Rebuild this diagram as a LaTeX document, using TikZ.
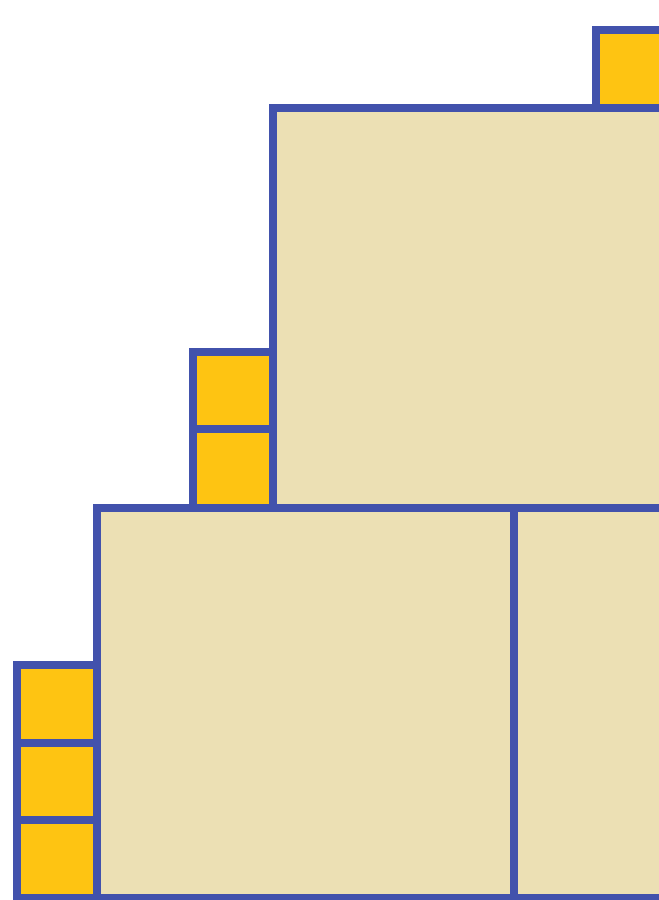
\documentclass[tikz,border=0pt]{standalone}
\usepackage{tikz}
\definecolor{sqblue}{RGB}{66,82,172}
\definecolor{sqbeige}{RGB}{236,224,180}
\definecolor{sqyellow}{RGB}{254,196,18}
\tikzset{
  bigsq/.style={fill=sqbeige, draw=sqblue, line width=0.08cm},
  smallsq/.style={fill=sqyellow, draw=sqblue, line width=0.08cm}
}
\begin{document}
\begin{tikzpicture}
\useasboundingbox (0,0) rectangle (6.59,9.00);
\clip (0,0) rectangle (6.59,9.00);
\draw[bigsq] (0.97,0.02) rectangle (5.14,3.92); %bottom left
\draw[bigsq] (5.14,0.02) rectangle (9.31,3.92); %bottom right
\draw[bigsq] (2.73,3.92) rectangle (6.73,7.92); %upper
\draw[smallsq] (0.17,0.02) rectangle (0.97,0.795); %left stack
\draw[smallsq] (0.17,0.795) rectangle (0.97,1.57);
\draw[smallsq] (0.17,1.57) rectangle (0.97,2.345);
\draw[smallsq] (1.93,3.92) rectangle (2.73,4.71); %middle stack
\draw[smallsq] (1.93,4.71) rectangle (2.73,5.48);
\draw[smallsq] (5.96,7.92) rectangle (6.76,8.70); %top
\end{tikzpicture}
\end{document}
